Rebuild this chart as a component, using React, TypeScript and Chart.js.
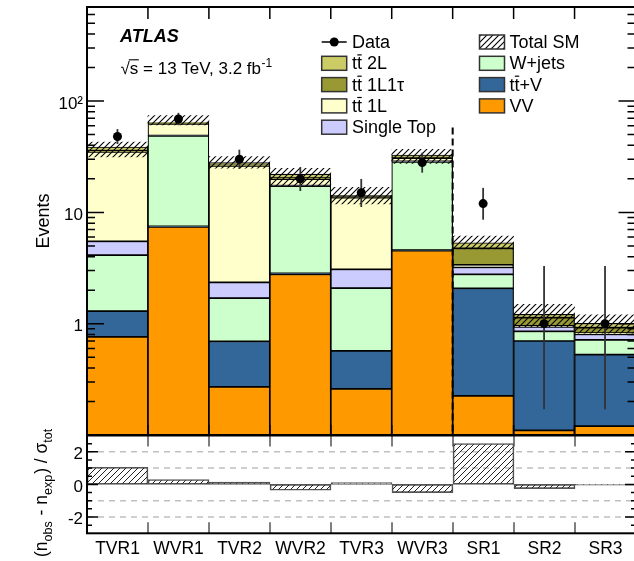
import React, { useEffect, useRef } from "react";
import { Chart, registerables } from "chart.js";

Chart.register(...registerables);

// ---------------- data ----------------
const regions = ["TVR1", "WVR1", "TVR2", "WVR2", "TVR3", "WVR3", "SR1", "SR2", "SR3"];
// background components, stacked bottom -> top
const vv = [0.76, 7.4, 0.27, 2.78, 0.26, 4.53, 0.225, 0.11, 0.12];
const ttV = [0.54, 0.1, 0.425, 0.05, 0.31, 0.05, 1.855, 0.589, 0.407];
const wjets = [2.82, 41.1, 1.0, 14.4, 1.52, 23.9, 0.7, 0.156, 0.187];
const singleTop = [1.38, 0.4, 0.655, 0.15, 0.99, 0.3, 0.43, 0.079, 0.089];
const tt1L = [29.4, 13.3, 23.75, 2.5, 10.47, 1.9, 0.16, 0.02, 0.02];
const tt1L1tau = [0.9, 0.8, 0.4, 0.4, 0.25, 0.4, 1.39, 0.178, 0.098];
const tt2L = [2.9, 1.4, 1.5, 1.8, 0.45, 1.7, 0.58, 0.083, 0.087];
// total SM uncertainty band
const totalLow = [31.5, 61, 24.9, 17.4, 11.9, 27.6, 4.7, 0.94, 0.82];
const totalHigh = [42.9, 74, 31.7, 24.9, 16.8, 36.9, 6.14, 1.49, 1.2];
// observed data
const dataObs = [48, 69, 30, 20, 15, 28, 12, 1, 1];
const dataErrUp = [7.98, 9.36, 6.58, 5.56, 4.96, 6.37, 4.61, 2.3, 2.3];
const dataErrDown = [6.9, 8.29, 5.44, 4.44, 3.83, 5.26, 3.41, 0.83, 0.83];
// significance panel
const pull = [1.05, 0.3, 0.15, -0.36, 0.11, -0.5, 2.51, -0.26, -0.04];
// ticks
const mainTickLabels = [1, 10, 100];
const mainMinorTicks = [0.2, 0.3, 0.4, 0.5, 0.6, 0.7, 0.8, 0.9, 2, 3, 4, 5, 6, 7, 8, 9, 20, 30, 40, 50, 60, 70, 80, 90, 200, 300, 400, 500, 600, 700];
const pullTickLabels = [-2, 0, 2];
const pullMinorTicks = [-2.5, -1.5, -1, -0.5, 0.5, 1, 1.5, 2.5];
const pullGridLines = [-2, -1, 1, 2];

const FONT = '"Liberation Sans", Arial, Helvetica, sans-serif';

const components = [
  { label: "VV", values: vv, color: "#ff9900" },
  { label: "tt+V", values: ttV, color: "#336699" },
  { label: "W+jets", values: wjets, color: "#ccffcc" },
  { label: "Single Top", values: singleTop, color: "#ccccff" },
  { label: "tt 1L", values: tt1L, color: "#ffffcc" },
  { label: "tt 1L1τ", values: tt1L1tau, color: "#999933" },
  { label: "tt 2L", values: tt2L, color: "#cccc66" },
];

function makeHatch(ctx: CanvasRenderingContext2D, s = 6, lw = 1.1, color = "#000") {
  const c = document.createElement("canvas");
  c.width = s;
  c.height = s;
  const g = c.getContext("2d")!;
  g.strokeStyle = color;
  g.lineWidth = lw;
  g.beginPath();
  g.moveTo(0, s);
  g.lineTo(s, 0);
  g.moveTo(-1, 1);
  g.lineTo(1, -1);
  g.moveTo(s - 1, s + 1);
  g.lineTo(s + 1, s - 1);
  g.stroke();
  return ctx.createPattern(c, "repeat")!;
}

function binEdge(x: any, i: number) {
  return (x.getPixelForValue(i) + x.getPixelForValue(i + 1)) / 2;
}

function drawTT(ctx: CanvasRenderingContext2D, x: number, y: number, rest: string, fs: number) {
  const wt = ctx.measureText("t").width;
  ctx.fillText("t", x, y);
  ctx.fillText("t", x + wt, y);
  ctx.save();
  ctx.lineWidth = 1.2;
  ctx.beginPath();
  ctx.moveTo(x + wt + 0.3, y - fs * 0.8);
  ctx.lineTo(x + 2 * wt - 0.3, y - fs * 0.8);
  ctx.stroke();
  ctx.restore();
  ctx.fillText(rest, x + 2 * wt, y);
}

export default function App() {
  const mainRef = useRef<HTMLCanvasElement>(null);
  const ratioRef = useRef<HTMLCanvasElement>(null);

  useEffect(() => {
    const mc = mainRef.current!;
    const rc = ratioRef.current!;
    const mctx = mc.getContext("2d")!;
    const rctx = rc.getContext("2d")!;
    const hatchMain = makeHatch(mctx, 6, 1.1, "#000");
    const hatchRatio = makeHatch(rctx, 6, 1.0, "#222");

    Chart.defaults.font.family = FONT;
    Chart.defaults.color = "#000";

    // cumulative floating bars (the lowest component starts at the axis base)
    const cum = regions.map(() => 0);
    const compDatasets = components.map((c, k) => {
      const data = c.values.map((v, i) => {
        const lo = cum[i];
        const hi = lo + v;
        cum[i] = hi;
        return k === 0 ? hi : [lo, hi];
      });
      return {
        type: "bar" as const,
        label: c.label,
        data,
        backgroundColor: c.color,
        borderColor: "#000",
        borderWidth: 1.2,
        borderSkipped: false,
        barPercentage: 1,
        categoryPercentage: 1,
        order: 10 + k,
      };
    });

    const bandDataset = {
      type: "bar" as const,
      label: "Total SM",
      data: totalLow.map((lo, i) => [lo, totalHigh[i]]),
      backgroundColor: hatchMain,
      borderWidth: 0,
      barPercentage: 1,
      categoryPercentage: 1,
      order: 1,
    };

    const pointsDataset = {
      type: "line" as const,
      label: "Data",
      data: dataObs,
      showLine: false,
      pointRadius: 4.5,
      pointHoverRadius: 4.5,
      pointBackgroundColor: "#000",
      pointBorderWidth: 0,
      order: 0,
    };

    const mainPlugin = {
      id: "mainDecor",
      afterDatasetDraw(chart: any, args: any) {
        if (args.index !== 1) return;
        const { ctx, scales } = chart;
        const x = scales.x;
        const y = scales.y;
        ctx.save();
        ctx.strokeStyle = "#333";
        ctx.lineWidth = 1.8;
        dataObs.forEach((v, i) => {
          const px = x.getPixelForValue(i);
          ctx.beginPath();
          ctx.moveTo(px, y.getPixelForValue(v + dataErrUp[i]));
          ctx.lineTo(px, y.getPixelForValue(v - dataErrDown[i]));
          ctx.stroke();
        });
        ctx.restore();
      },
      afterDraw(chart: any) {
        const { ctx, chartArea: a, scales } = chart;
        const x = scales.x;
        const y = scales.y;
        ctx.save();
        ctx.strokeStyle = "#000";
        ctx.lineWidth = 1.5;
        const tick = (v: number, len: number) => {
          const py = y.getPixelForValue(v);
          ctx.beginPath();
          ctx.moveTo(a.left, py);
          ctx.lineTo(a.left + len, py);
          ctx.moveTo(a.right, py);
          ctx.lineTo(a.right - len, py);
          ctx.stroke();
        };
        mainMinorTicks.forEach((v) => tick(v, 8));
        mainTickLabels.forEach((v) => tick(v, 17));
        for (let i = 0; i < regions.length - 1; i++) {
          const px = binEdge(x, i);
          ctx.beginPath();
          ctx.moveTo(px, a.top);
          ctx.lineTo(px, a.top + 12);
          ctx.moveTo(px, a.bottom);
          ctx.lineTo(px, a.bottom - 10);
          ctx.stroke();
        }
        const sep = binEdge(x, 5);
        ctx.save();
        ctx.lineWidth = 2;
        ctx.setLineDash([7, 4]);
        ctx.beginPath();
        ctx.moveTo(sep, y.getPixelForValue(58));
        ctx.lineTo(sep, a.bottom);
        ctx.stroke();
        ctx.restore();
        ctx.lineWidth = 2;
        ctx.strokeRect(a.left, a.top, a.right - a.left, a.bottom - a.top);

        // ATLAS label
        ctx.fillStyle = "#000";
        ctx.textBaseline = "alphabetic";
        ctx.textAlign = "left";
        ctx.font = `italic bold 18px ${FONT}`;
        ctx.fillText("ATLAS", 120, 42);
        ctx.font = `17px ${FONT}`;
        const sx = 120.5;
        const sy = 74;
        const wRad = ctx.measureText("√").width;
        const wS = ctx.measureText("s").width;
        const mainTxt = "√s = 13 TeV, 3.2 fb";
        ctx.fillText(mainTxt, sx, sy);
        ctx.lineWidth = 1.1;
        ctx.beginPath();
        ctx.moveTo(sx + wRad - 1, sy - 14.2);
        ctx.lineTo(sx + wRad + wS + 0.5, sy - 14.2);
        ctx.stroke();
        const wMain = ctx.measureText(mainTxt).width;
        ctx.font = `12px ${FONT}`;
        ctx.fillText("-1", sx + wMain + 0.5, sy - 7);

        // legend
        const fs = 18;
        ctx.font = `${fs}px ${FONT}`;
        const rows = [42, 63.3, 84.6, 105.9, 127.2];
        const lbx = 321.7;
        const rbx = 479.5;
        const ltx = 352;
        const rtx = 509.5;
        const box = (bx: number, cy: number, fill: any) => {
          ctx.save();
          ctx.fillStyle = fill;
          ctx.fillRect(bx, cy - 7, 25, 14);
          ctx.strokeStyle = "#333";
          ctx.lineWidth = 1.5;
          ctx.strokeRect(bx, cy - 7, 25, 14);
          ctx.restore();
        };
        const base = (cy: number) => cy + 6;
        ctx.lineWidth = 1.5;
        ctx.beginPath();
        ctx.moveTo(lbx, rows[0]);
        ctx.lineTo(lbx + 25, rows[0]);
        ctx.stroke();
        ctx.beginPath();
        ctx.arc(lbx + 12.5, rows[0], 4.5, 0, Math.PI * 2);
        ctx.fill();
        ctx.fillText("Data", ltx, base(rows[0]));
        box(lbx, rows[1], components[6].color);
        drawTT(ctx, ltx, base(rows[1]), " 2L", fs);
        box(lbx, rows[2], components[5].color);
        drawTT(ctx, ltx, base(rows[2]), " 1L1τ", fs);
        box(lbx, rows[3], components[4].color);
        drawTT(ctx, ltx, base(rows[3]), " 1L", fs);
        box(lbx, rows[4], components[3].color);
        ctx.fillText("Single Top", ltx, base(rows[4]));
        box(rbx, rows[0], hatchMain);
        ctx.fillText("Total SM", rtx, base(rows[0]));
        box(rbx, rows[1], components[2].color);
        ctx.fillText("W+jets", rtx, base(rows[1]));
        box(rbx, rows[2], components[1].color);
        drawTT(ctx, rtx, base(rows[2]), "+V", fs);
        box(rbx, rows[3], components[0].color);
        ctx.fillText("VV", rtx, base(rows[3]));

        // y title
        ctx.save();
        ctx.translate(49, (a.top + a.bottom) / 2);
        ctx.rotate(-Math.PI / 2);
        ctx.textAlign = "center";
        ctx.font = `18px ${FONT}`;
        ctx.fillText("Events", 0, 0);
        ctx.restore();
        ctx.restore();
      },
    };

    const mainChart = new Chart(mc, {
      type: "bar",
      data: {
        labels: regions,
        datasets: [pointsDataset as any, bandDataset as any, ...(compDatasets as any)],
      },
      options: {
        animation: false,
        responsive: false,
        maintainAspectRatio: false,
        events: [],
        layout: { padding: { left: 0, top: 7, right: 4, bottom: 126 } },
        plugins: { legend: { display: false }, tooltip: { enabled: false } },
        scales: {
          x: {
            type: "category",
            stacked: true,
            display: false,
            offset: true,
            grid: { display: false },
          },
          y: {
            type: "logarithmic",
            min: 0.1,
            max: 700,
            stacked: false,
            afterBuildTicks: (s: any) => {
              s.ticks = mainTickLabels.map((v) => ({ value: v }));
            },
            afterFit: (s: any) => {
              s.width = 87;
              s.paddingTop = 0;
              s.paddingBottom = 0;
            },
            ticks: {
              autoSkip: false,
              padding: 4,
              labelOffset: 3,
              color: "#000",
              font: { size: 17, family: FONT },
              callback: (v: any) => (Number(v) === 100 ? "10²" : String(v)),
            },
            grid: { display: false, drawTicks: false },
            border: { display: false },
          },
        },
      } as any,
      plugins: [mainPlugin],
    });

    const ratioPlugin = {
      id: "ratioDecor",
      beforeDatasetsDraw(chart: any) {
        const { ctx, chartArea: a, scales } = chart;
        const y = scales.y;
        ctx.save();
        ctx.strokeStyle = "#c0c0c0";
        ctx.lineWidth = 1.5;
        ctx.setLineDash([6, 5]);
        pullGridLines.forEach((v) => {
          const py = y.getPixelForValue(v);
          ctx.beginPath();
          ctx.moveTo(a.left, py);
          ctx.lineTo(a.right, py);
          ctx.stroke();
        });
        ctx.restore();
      },
      afterDraw(chart: any) {
        const { ctx, chartArea: a, scales } = chart;
        const x = scales.x;
        const y = scales.y;
        ctx.save();
        ctx.strokeStyle = "#000";
        ctx.lineWidth = 1.5;
        const tick = (v: number, len: number) => {
          const py = y.getPixelForValue(v);
          ctx.beginPath();
          ctx.moveTo(a.left, py);
          ctx.lineTo(a.left + len, py);
          ctx.moveTo(a.right, py);
          ctx.lineTo(a.right - len, py);
          ctx.stroke();
        };
        pullMinorTicks.forEach((v) => tick(v, 5));
        pullTickLabels.forEach((v) => tick(v, 11));
        ctx.strokeStyle = "#555";
        for (let i = 0; i < regions.length - 1; i++) {
          const px = binEdge(x, i);
          ctx.beginPath();
          ctx.moveTo(px, a.top);
          ctx.lineTo(px, a.top + 11);
          ctx.moveTo(px, a.bottom);
          ctx.lineTo(px, a.bottom - 11);
          ctx.stroke();
        }
        ctx.strokeStyle = "#000";
        ctx.lineWidth = 2;
        ctx.strokeRect(a.left, a.top, a.right - a.left, a.bottom - a.top);

        // y title: (n_obs - n_exp) / σ_tot
        ctx.save();
        ctx.translate(47, 557);
        ctx.rotate(-Math.PI / 2);
        ctx.fillStyle = "#000";
        ctx.textAlign = "left";
        ctx.textBaseline = "alphabetic";
        const big = `17.5px ${FONT}`;
        const small = `12.5px ${FONT}`;
        const parts: [string, boolean][] = [
          ["(n", false],
          ["obs", true],
          [" - n", false],
          ["exp", true],
          [") / σ", false],
          ["tot", true],
        ];
        let cx = 0;
        parts.forEach(([t, sub]) => {
          ctx.font = sub ? small : big;
          ctx.fillText(t, cx, sub ? 5 : 0);
          cx += ctx.measureText(t).width + (sub ? 1 : 0);
        });
        ctx.restore();
        ctx.restore();
      },
    };

    const ratioChart = new Chart(rc, {
      type: "bar",
      data: {
        labels: regions,
        datasets: [
          {
            label: "pull",
            data: pull,
            backgroundColor: hatchRatio,
            borderColor: "#555",
            borderWidth: 1,
            borderSkipped: false,
            barPercentage: 1,
            categoryPercentage: 1,
          } as any,
        ],
      },
      options: {
        animation: false,
        responsive: false,
        maintainAspectRatio: false,
        events: [],
        layout: { padding: { left: 0, top: 435.5, right: 4, bottom: 0 } },
        plugins: { legend: { display: false }, tooltip: { enabled: false } },
        scales: {
          x: {
            type: "category",
            stacked: true,
            offset: true,
            grid: { display: false, drawTicks: false },
            border: { display: false },
            afterFit: (s: any) => {
              s.height = 27.7;
              s.paddingLeft = 0;
              s.paddingRight = 0;
            },
            ticks: {
              autoSkip: false,
              maxRotation: 0,
              minRotation: 0,
              padding: 5.5,
              color: "#000",
              font: { size: 17.5, family: FONT },
            },
          },
          y: {
            type: "linear",
            min: -3,
            max: 3,
            afterBuildTicks: (s: any) => {
              s.ticks = pullTickLabels.map((v) => ({ value: v }));
            },
            afterFit: (s: any) => {
              s.width = 87;
              s.paddingTop = 0;
              s.paddingBottom = 0;
            },
            ticks: {
              autoSkip: false,
              padding: 4,
              labelOffset: 2.5,
              color: "#000",
              font: { size: 17, family: FONT },
              callback: (v: any) => String(v),
            },
            grid: { display: false, drawTicks: false },
            border: { display: false },
          },
        },
      } as any,
      plugins: [ratioPlugin],
    });

    return () => {
      mainChart.destroy();
      ratioChart.destroy();
    };
  }, []);

  return (
    <div
      style={{
        position: "absolute",
        left: 0,
        top: 0,
        width: 634,
        height: 561,
        overflow: "hidden",
        background: "#fff",
      }}
    >
      <canvas
        ref={mainRef}
        width={640}
        height={561}
        style={{ position: "absolute", left: 0, top: 0, width: 640, height: 561 }}
      />
      <canvas
        ref={ratioRef}
        width={640}
        height={561}
        style={{ position: "absolute", left: 0, top: 0, width: 640, height: 561 }}
      />
    </div>
  );
}
